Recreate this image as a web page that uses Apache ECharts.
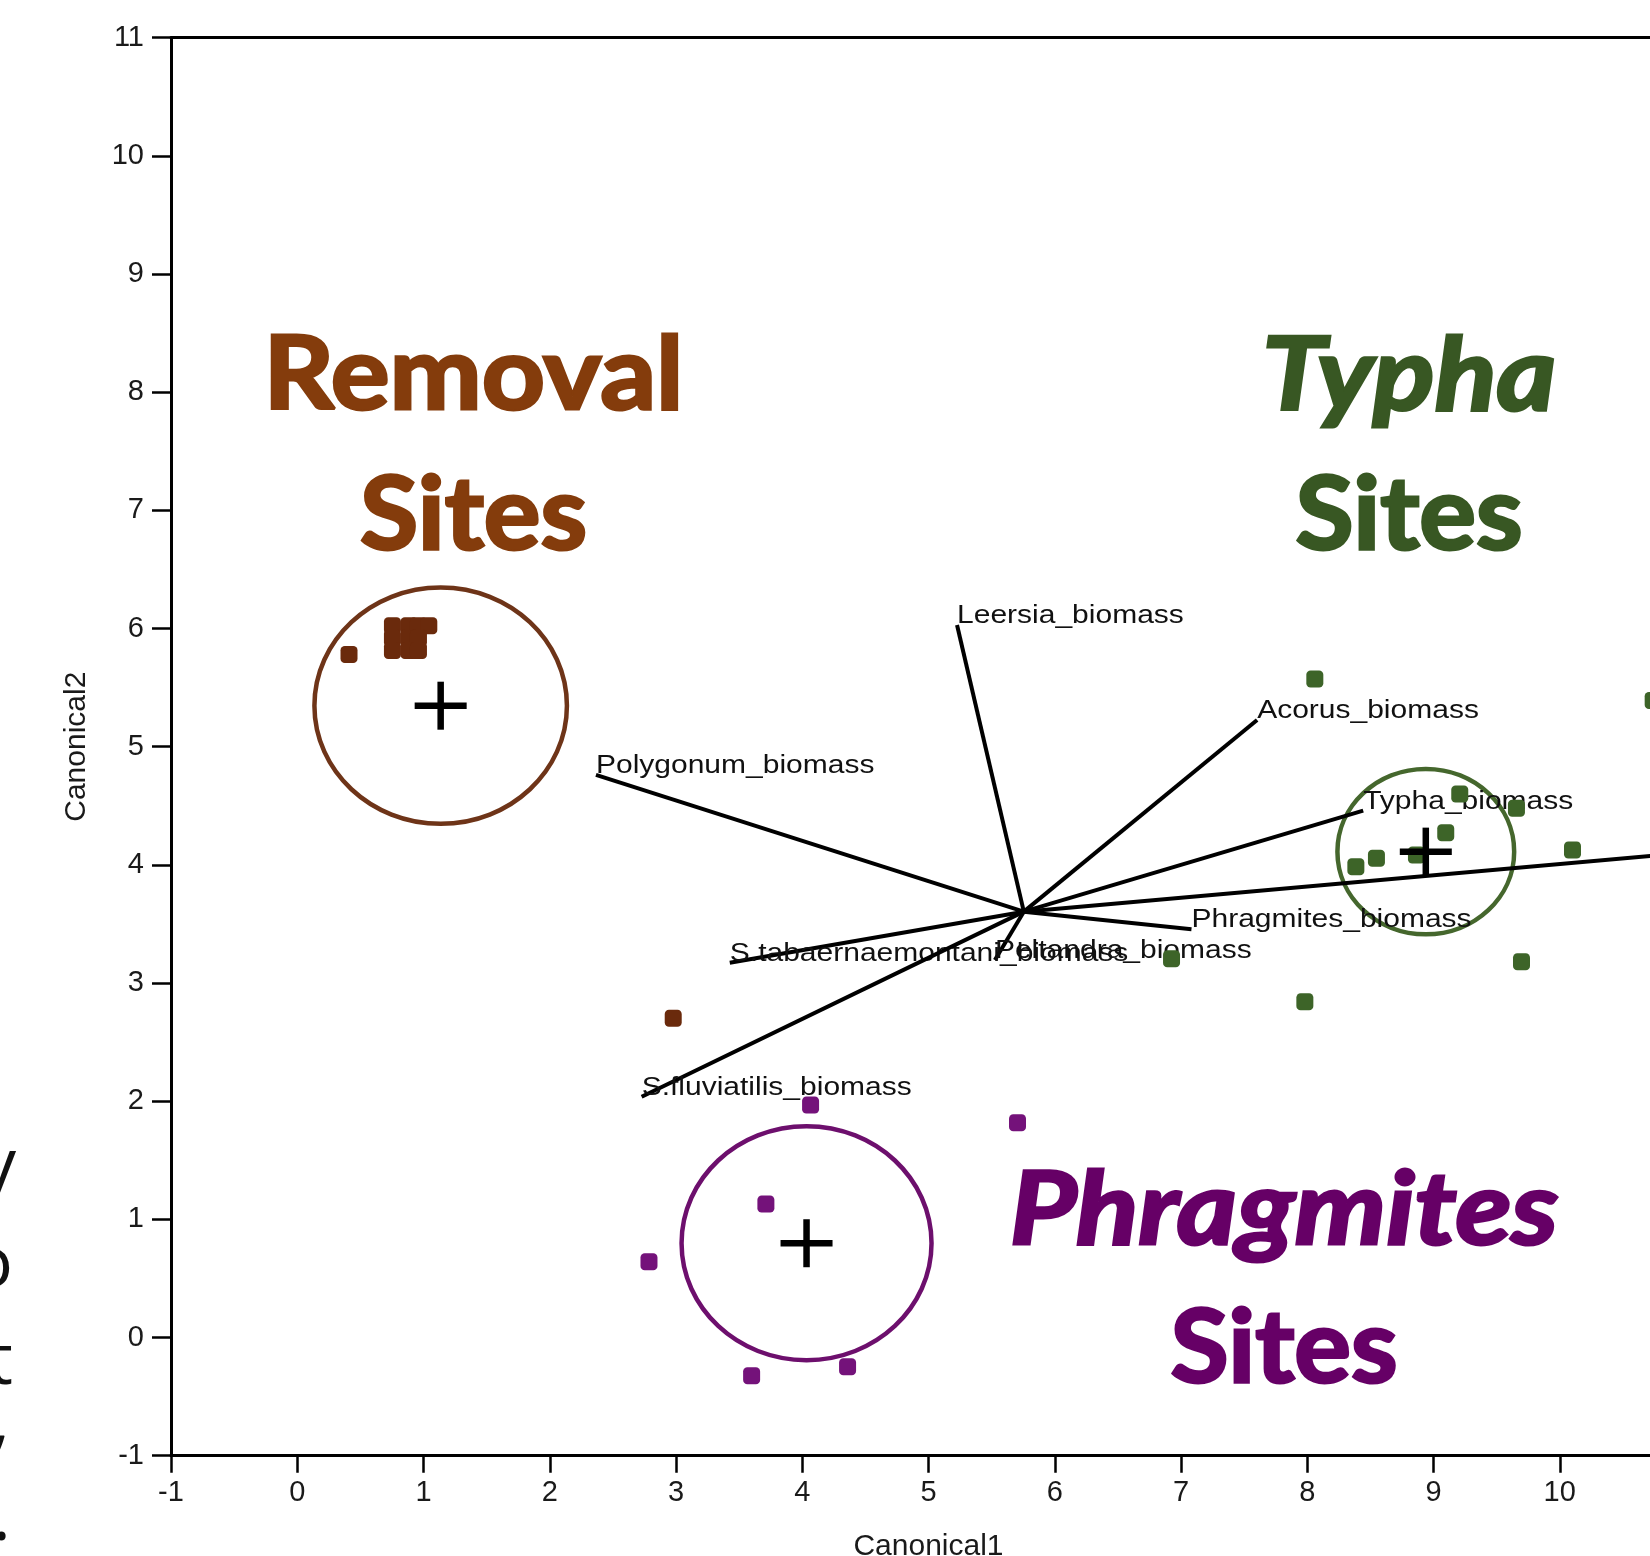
<!DOCTYPE html>
<html>
<head>
<meta charset="utf-8">
<script src="https://cdn.jsdelivr.net/npm/echarts@6/dist/echarts.min.js"></script>
<style>
html, body { margin: 0; padding: 0; background: #fff; }
#chart { width: 1650px; height: 1556px; }
</style>
</head>
<body>
<div id="chart"></div>
<script>
// Canonical scores (Canonical1, Canonical2) of each sampled site
const removalSites = [
  [0.41, 5.78],
  [0.754, 6.023], [0.885, 6.023], [0.96, 6.023], [1.042, 6.023],
  [0.754, 5.92], [0.885, 5.92], [0.96, 5.92],
  [0.754, 5.814], [0.885, 5.814], [0.96, 5.814],
  [2.978, 2.702]
];
const typhaSites = [
  [8.06, 5.573], [10.74, 5.39], [9.208, 4.6], [9.657, 4.479],
  [9.097, 4.272], [10.101, 4.126], [8.548, 4.056], [8.385, 3.985],
  [8.865, 4.084], [9.697, 3.181], [7.981, 2.842], [6.925, 3.205]
];
const phragmitesSites = [
  [4.066, 1.968], [3.712, 1.13], [2.786, 0.642],
  [3.599, -0.323], [4.359, -0.247], [5.705, 1.817]
];

// Group means and the radius of the circle drawn round each one
const groupMeans = [[1.136, 5.347], [8.939, 4.112], [4.034, 0.798]];
const groupRadii = [1.0, 0.70, 0.99];

// Biplot rays: shared origin, tip of each species ray, and its name
const rayOrigin = [5.755, 3.604];
const rayNames = [
  'Leersia_biomass', 'Acorus_biomass', 'Typha_biomass', '',
  'Phragmites_biomass', 'Peltandra_biomass', 'S.tabaernaemontani_biomass',
  'S.fluviatilis_biomass', 'Polygonum_biomass'
];
const rayTips = [
  [5.226, 6.03], [7.603, 5.226], [8.443, 4.459], [11.6, 4.16],
  [7.083, 3.455], [5.526, 3.195], [3.426, 3.172],
  [2.728, 2.038], [2.366, 4.761]
];

// Axis range and tick step (same for both axes)
const axisMin = -1;
const axisMax = 11;
const axisStep = 1;

const markerColors = ['#6a2a0c', '#3d6428', '#74127a'];
const ringColors = ['#6e3418', '#45672d', '#6d0f6d'];
const tickFont = 'Liberation Sans';

const chart = echarts.init(document.getElementById('chart'), null, { renderer: 'canvas' });

function ringItem(params, api) {
  const c = api.coord([api.value(0), api.value(1)]);
  const s = api.size([api.value(2), api.value(2)]);
  return {
    type: 'ellipse',
    shape: { cx: c[0], cy: c[1], rx: s[0], ry: s[1] },
    style: { fill: 'none', stroke: ringColors[params.dataIndex], lineWidth: 4.5 }
  };
}

function crossItem(params, api) {
  const c = api.coord([api.value(0), api.value(1)]);
  const st = { stroke: '#000', lineWidth: 6.5 };
  return {
    type: 'group',
    children: [
      { type: 'line', shape: { x1: c[0] - 26, y1: c[1], x2: c[0] + 26, y2: c[1] }, style: st },
      { type: 'line', shape: { x1: c[0], y1: c[1] - 24, x2: c[0], y2: c[1] + 24 }, style: st }
    ]
  };
}

function rayItem(params, api) {
  const o = api.coord(rayOrigin);
  const t = api.coord([api.value(0), api.value(1)]);
  const fs = 25;
  return {
    type: 'group',
    children: [
      { type: 'line', shape: { x1: o[0], y1: o[1], x2: t[0], y2: t[1] },
        style: { stroke: '#000', lineWidth: 4 } },
      { type: 'text', x: t[0], y: t[1] - 0.35 * fs, scaleX: 1.2,
        style: {
          text: rayNames[params.dataIndex],
          fontSize: fs, fontFamily: tickFont, fill: '#111',
          align: 'left', verticalAlign: 'middle',
          textAlign: 'left', textVerticalAlign: 'middle'
        } }
    ]
  };
}

function siteSeries(data, color) {
  return {
    type: 'scatter', data: data, symbol: 'roundRect', symbolSize: 17,
    itemStyle: { color: color, opacity: 1 }, z: 4, silent: true
  };
}

function bigText(x, y, sx, text, font, color) {
  return {
    type: 'text', x: x, y: y, scaleX: sx, z: 10,
    style: {
      text: text, font: font, fill: color, stroke: color, lineWidth: 3,
      align: 'center', verticalAlign: 'middle',
      textAlign: 'center', textVerticalAlign: 'middle'
    }
  };
}

function edgeText(x, y, text) {
  return {
    type: 'text', x: x, y: y, z: 10,
    style: {
      text: text, font: '72px "Open Sans"', fill: '#111',
      align: 'right', verticalAlign: 'top',
      textAlign: 'right', textVerticalAlign: 'top'
    }
  };
}

const axisLabelStyle = { fontFamily: tickFont, fontSize: 29, color: '#1a1a1a' };

const option = {
  animation: false,
  backgroundColor: '#fff',
  grid: { left: 171, top: 37.7, width: 1515, height: 1418, outerBoundsMode: 'none', containLabel: false },
  xAxis: [
    {
      type: 'value', min: axisMin, max: axisMax, interval: axisStep, position: 'bottom',
      name: 'Canonical1', nameLocation: 'middle', nameGap: 76,
      nameTextStyle: { fontFamily: tickFont, fontSize: 30, color: '#1a1a1a' },
      axisLine: { show: true, onZero: false, lineStyle: { color: '#000', width: 3 } },
      axisTick: { show: true, length: 17, lineStyle: { color: '#000', width: 2.5 } },
      axisLabel: Object.assign({ margin: 22.5 }, axisLabelStyle),
      splitLine: { show: false }
    },
    {
      type: 'value', min: axisMin, max: axisMax, position: 'top',
      axisLine: { show: true, onZero: false, lineStyle: { color: '#000', width: 3 } },
      axisTick: { show: false }, axisLabel: { show: false }, splitLine: { show: false }
    }
  ],
  yAxis: {
    type: 'value', min: axisMin, max: axisMax, interval: axisStep,
    name: 'Canonical2', nameLocation: 'middle', nameGap: 79, nameRotate: 90,
    nameTextStyle: { fontFamily: tickFont, fontSize: 30, color: '#1a1a1a' },
    axisLine: { show: true, onZero: false, lineStyle: { color: '#000', width: 3 } },
    axisTick: { show: true, length: 19, lineStyle: { color: '#000', width: 2.5 } },
    axisLabel: Object.assign({ margin: 27 }, axisLabelStyle),
    splitLine: { show: false }
  },
  series: [
    {
      type: 'custom', name: 'rings', renderItem: ringItem, z: 2, silent: true,
      data: groupMeans.map((m, i) => [m[0], m[1], groupRadii[i]]),
      encode: { x: 0, y: 1 }
    },
    {
      type: 'custom', name: 'rays', renderItem: rayItem, z: 3, silent: true,
      data: rayTips.map(t => [t[0], t[1]]),
      encode: { x: 0, y: 1 }
    },
    siteSeries(removalSites, markerColors[0]),
    siteSeries(typhaSites, markerColors[1]),
    siteSeries(phragmitesSites, markerColors[2]),
    {
      type: 'custom', name: 'means', renderItem: crossItem, z: 5, silent: true,
      data: groupMeans, encode: { x: 0, y: 1 }
    }
  ],
  graphic: [
    bigText(473.5, 376, 1.08, 'Removal', 'bold 102px Lato', '#843c0c'),
    bigText(473.5, 516, 1.04, 'Sites', 'bold 102px Lato', '#843c0c'),
    bigText(1409, 377, 1.12, 'Typha', 'italic bold 102px Lato', '#385723'),
    bigText(1409, 516, 1.04, 'Sites', 'bold 102px Lato', '#385723'),
    bigText(1284, 1211, 1.13, 'Phragmites', 'italic bold 102px Lato', '#660066'),
    bigText(1284, 1349, 1.04, 'Sites', 'bold 102px Lato', '#660066'),
    edgeText(16, 1132, 'y'),
    edgeText(13, 1230, 'o'),
    edgeText(13, 1327, 't'),
    edgeText(10, 1387, ','),
    edgeText(11, 1483, '.')
  ]
};

chart.setOption(option);
</script>
</body>
</html>
